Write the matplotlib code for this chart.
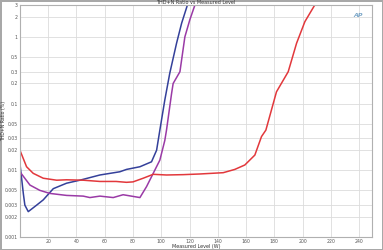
import matplotlib
matplotlib.use('Agg')
import matplotlib.pyplot as plt
from matplotlib.ticker import FixedLocator, FixedFormatter, NullLocator

# blue trace
blue_x = [0, 2.4, 3.5, 5.9, 11.8, 16.5, 23.6, 33, 42.4, 56.6, 70.7, 75.4, 84.9, 93.1,
          96.7, 99, 102.5, 106, 110.8, 114.4, 118.5]
blue_y = [0.0127, 0.0045, 0.003, 0.0024, 0.003, 0.0036, 0.0053, 0.0064, 0.0071, 0.0085,
          0.0095, 0.0103, 0.0113, 0.0134, 0.020, 0.040, 0.113, 0.284, 0.80, 1.6, 3.0]

# purple trace
purple_x = [0, 7.1, 14.1, 21.2, 33, 44.8, 49.5, 56.6, 66, 73, 84.9, 89.6, 94.3, 99,
            102.5, 103.7, 107.3, 108.4, 113.2, 116.7, 120.2, 123.8]
purple_y = [0.0095, 0.006, 0.005, 0.0045, 0.0042, 0.0041, 0.0039, 0.0041, 0.0039, 0.0043,
            0.0039, 0.0057, 0.009, 0.0142, 0.028, 0.04, 0.142, 0.2, 0.3, 1.0, 1.8, 3.0]

# red trace
red_x = [0, 4.7, 9.4, 16.5, 26, 33, 44.8, 56.6, 68, 75.4, 80, 87.2, 94.3, 103.7, 115.5,
         127.3, 143.8, 152, 159.1, 166.2, 170.9, 174, 181.5, 189.8, 195.7, 201.6, 208.6]
red_y = [0.020, 0.0113, 0.009, 0.0076, 0.0071, 0.0072, 0.0071, 0.0068, 0.0068, 0.0066,
         0.0067, 0.0076, 0.0087, 0.0085, 0.0086, 0.0088, 0.0092, 0.0103, 0.012, 0.0169,
         0.032, 0.04, 0.15, 0.3, 0.8, 1.69, 3.0]

x_ticks = [20, 40, 60, 80, 100, 120, 140, 160, 180, 200, 220, 240]
y_ticks = [0.001, 0.002, 0.003, 0.005, 0.01, 0.02, 0.03, 0.05, 0.1, 0.2, 0.3, 0.5, 1, 2, 3]
y_labels = ['0.001', '0.002', '0.003', '0.005', '0.01', '0.02', '0.03', '0.05',
            '0.1', '0.2', '0.3', '0.5', '1', '2', '3']

fig = plt.figure(figsize=(3.83, 2.5), dpi=100)
fig.patch.set_edgecolor('#a8a8a8')
fig.patch.set_linewidth(1.0)
ax = fig.add_axes([0.052, 0.052, 0.919, 0.928])

ax.plot(blue_x, blue_y, color='#34409a', lw=1.1)
ax.plot(purple_x, purple_y, color='#9a3aa6', lw=1.1)
ax.plot(red_x, red_y, color='#e2383c', lw=1.1)

ax.set_yscale('log')
ax.set_xlim(0, 249)
ax.set_ylim(0.001, 3)
ax.xaxis.set_major_locator(FixedLocator(x_ticks))
ax.yaxis.set_major_locator(FixedLocator(y_ticks))
ax.yaxis.set_major_formatter(FixedFormatter(y_labels))
ax.yaxis.set_minor_locator(NullLocator())
ax.tick_params(labelsize=3.3, length=0, pad=1.5, colors='#555555')
ax.grid(True, color='#dcdcdc', lw=0.6)
for s in ax.spines.values():
    s.set_color('#b0b0b0')
    s.set_linewidth(0.8)

ax.set_title('THD+N Ratio vs Measured Level', fontsize=3.5, pad=1, color='#333333')
ax.set_xlabel('Measured Level (W)', fontsize=3.5, labelpad=0, color='#333333')
ax.set_ylabel('THD+N Ratio (%)', fontsize=3.3, color='#333333')
ax.yaxis.set_label_coords(-0.04, 0.5)
ax.text(0.975, 0.965, 'AP', transform=ax.transAxes, fontsize=4.5, color='#7aa6c8',
        ha='right', va='top', style='italic', fontweight='bold')

fig.savefig('out.png', dpi=100)
